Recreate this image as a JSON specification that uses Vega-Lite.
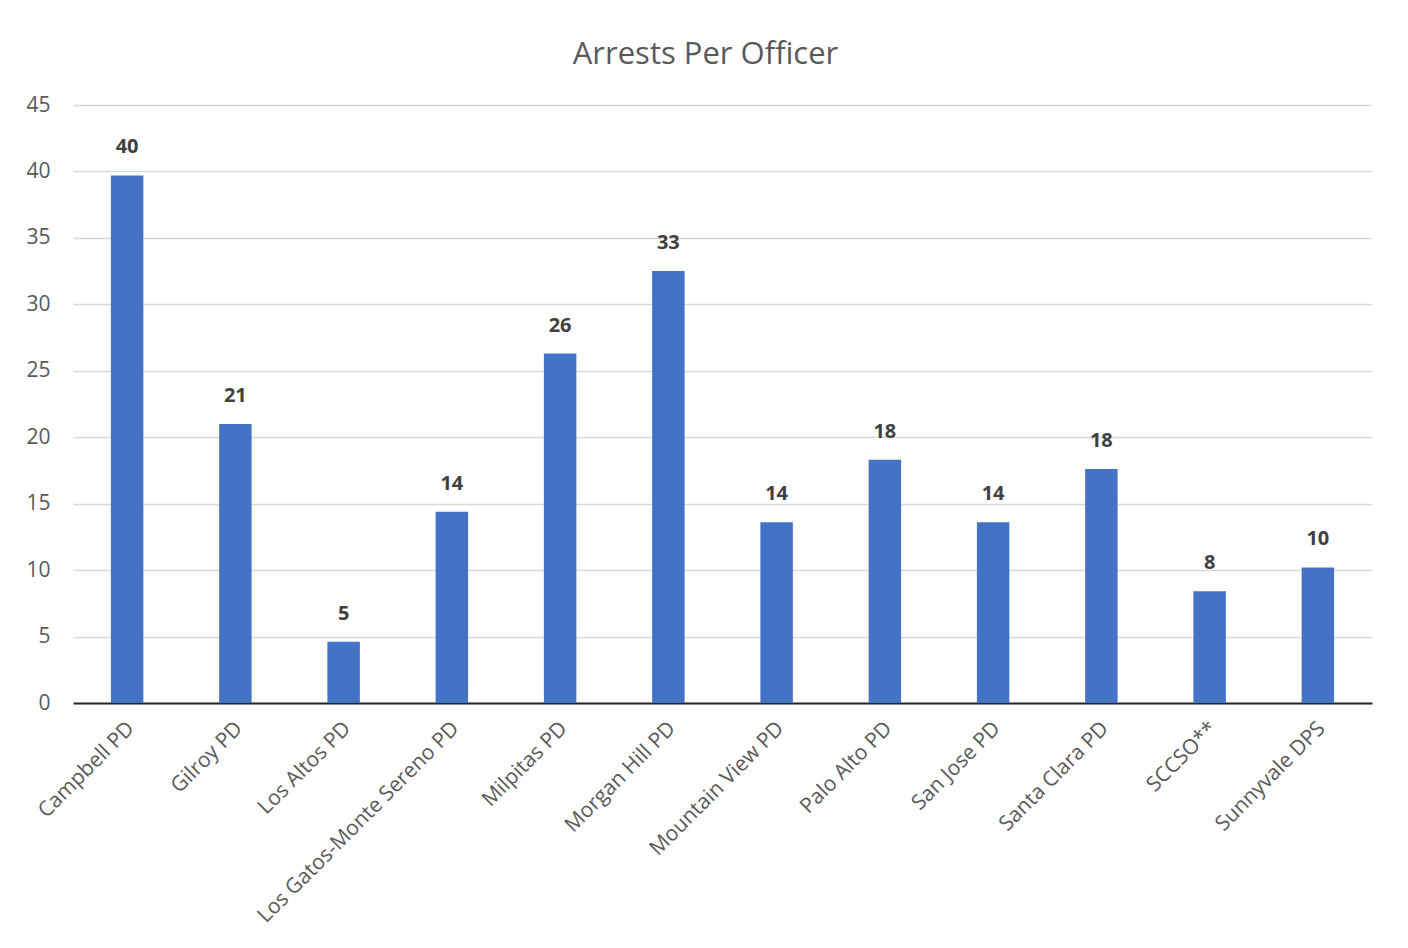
{
  "$schema": "https://vega.github.io/schema/vega-lite/v6.json",
  "width": 1299,
  "height": 598,
  "autosize": {"type": "none"},
  "padding": {"left": 73, "top": 105, "right": 36, "bottom": 245},
  "background": "white",
  "config": {
    "view": {"stroke": null},
    "font": "Open Sans"
  },
  "title": {
    "text": "Arrests Per Officer",
    "fontSize": 31,
    "fontWeight": "normal",
    "color": "#595959",
    "font": "Open Sans",
    "anchor": "middle",
    "dx": -17,
    "offset": 23
  },
  "data": {
    "values": [
      {"agency": "Campbell PD", "arrests_per_officer": 39.7},
      {"agency": "Gilroy PD", "arrests_per_officer": 21.0},
      {"agency": "Los Altos PD", "arrests_per_officer": 4.6},
      {"agency": "Los Gatos-Monte Sereno PD", "arrests_per_officer": 14.4},
      {"agency": "Milpitas PD", "arrests_per_officer": 26.3},
      {"agency": "Morgan Hill PD", "arrests_per_officer": 32.5},
      {"agency": "Mountain View PD", "arrests_per_officer": 13.6},
      {"agency": "Palo Alto PD", "arrests_per_officer": 18.3},
      {"agency": "San Jose PD", "arrests_per_officer": 13.6},
      {"agency": "Santa Clara PD", "arrests_per_officer": 17.6},
      {"agency": "SCCSO**", "arrests_per_officer": 8.4},
      {"agency": "Sunnyvale DPS", "arrests_per_officer": 10.2}
    ]
  },
  "encoding": {
    "x": {
      "field": "agency",
      "type": "nominal",
      "sort": null,
      "scale": {"paddingInner": 0, "paddingOuter": 0},
      "axis": {
        "title": null,
        "labelAngle": -45,
        "labelAlign": "right",
        "labelBaseline": "middle",
        "labelFontSize": 21,
        "labelColor": "#595959",
        "labelPadding": 22,
        "labelOffset": 4,
        "ticks": false,
        "domain": true,
        "domainColor": "#262626",
        "domainWidth": 2,
        "labelLimit": 400,
        "grid": false
      }
    },
    "y": {
      "field": "arrests_per_officer",
      "type": "quantitative",
      "scale": {"domain": [0, 45], "nice": false},
      "axis": {
        "title": null,
        "values": [0, 5, 10, 15, 20, 25, 30, 35, 40, 45],
        "domain": false,
        "ticks": false,
        "labelFontSize": 21,
        "labelColor": "#595959",
        "labelPadding": 23,
        "gridColor": "#d9d9d9",
        "gridWidth": 1.5
      }
    }
  },
  "layer": [
    {
      "mark": {"type": "bar", "color": "#4472C4", "width": {"band": 0.3}}
    },
    {
      "mark": {
        "type": "text",
        "baseline": "bottom",
        "dy": -18,
        "fontSize": 20,
        "fontWeight": "bold",
        "color": "#404040"
      },
      "encoding": {
        "text": {"field": "arrests_per_officer", "type": "quantitative", "format": ".0f"}
      }
    }
  ]
}
